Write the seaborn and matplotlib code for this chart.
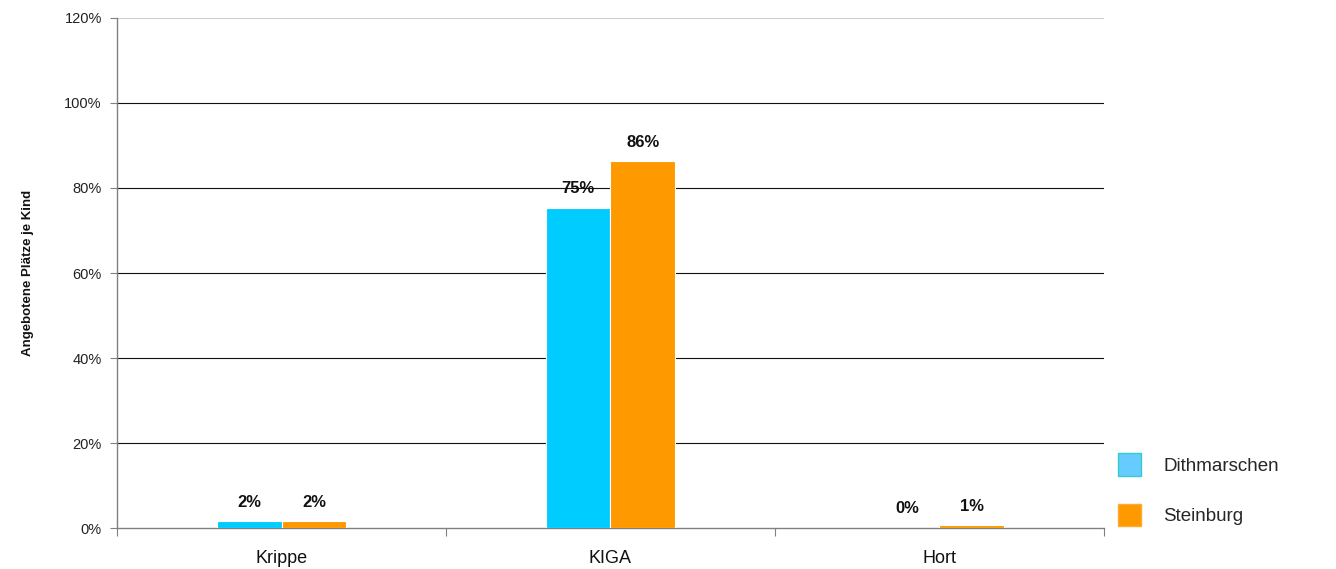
import matplotlib
matplotlib.use("Agg")
import matplotlib.pyplot as plt
from matplotlib.patches import Patch
from matplotlib.ticker import FixedLocator, PercentFormatter
import seaborn as sns
import pandas as pd

# Offered places per child, by care type and district
categories = ["Krippe", "KIGA", "Hort"]
dithmarschen = [0.016, 0.754, 0.001]
steinburg = [0.016, 0.864, 0.006]
series_names = ["Dithmarschen", "Steinburg"]
y_ticks = [0.0, 0.2, 0.4, 0.6, 0.8, 1.0, 1.2]

df = pd.DataFrame({
    "Kategorie": categories * 2,
    "Region": [series_names[0]] * 3 + [series_names[1]] * 3,
    "Anteil": dithmarschen + steinburg,
})

sns.set_theme(style="white")
plt.rcParams["font.family"] = ["Liberation Sans", "DejaVu Sans"]

fig = plt.figure(figsize=(13.36, 5.69), dpi=100)
ax = fig.add_axes([0.0876, 0.072, 0.7387, 0.8964])

bar_colors = {"Dithmarschen": "#00CCFF", "Steinburg": "#FF9900"}
sns.barplot(data=df, x="Kategorie", y="Anteil", hue="Region",
            order=categories, hue_order=series_names, palette=bar_colors,
            saturation=1, width=0.395, gap=0, edgecolor="white",
            linewidth=0.8, legend=False, ax=ax, zorder=3)

for cont in ax.containers:
    ax.bar_label(cont, labels=[f"{v * 100:.0f}%" for v in cont.datavalues],
                 padding=8, fontsize=12, fontweight="bold", color="#111111")

ax.set_xlim(-0.5, 2.5)
ax.set_ylim(0, 1.2)
ax.yaxis.set_major_locator(FixedLocator(y_ticks))
ax.yaxis.set_major_formatter(PercentFormatter(1.0, decimals=0))

# Horizontal gridlines
for t in y_ticks[1:]:
    ax.axhline(t, color="#D0D0D0" if t >= 1.2 else "#111111",
               linewidth=0.8, zorder=1)

for side in ["top", "right"]:
    ax.spines[side].set_visible(False)
for side in ["left", "bottom"]:
    ax.spines[side].set_color("#808080")
    ax.spines[side].set_linewidth(1.0)

ax.tick_params(axis="y", which="major", left=True, length=5, width=0.8,
               color="#808080", labelsize=10.5, labelcolor="#222222", pad=6)
ax.set_xticks([0, 1, 2])
ax.set_xticklabels(categories, fontsize=13, color="#111111")
ax.tick_params(axis="x", which="major", bottom=False, pad=10)
ax.set_xticks([-0.5, 0.5, 1.5, 2.5], minor=True)
ax.tick_params(axis="x", which="minor", bottom=True, length=6, width=0.8,
               color="#808080")

ax.set_xlabel("")
ax.set_ylabel("Angebotene Plätze je Kind", fontsize=9.5, fontweight="bold",
              color="#111111", labelpad=22)

handles = [Patch(facecolor="#66CCFF", edgecolor="#33CCCC", label="Dithmarschen"),
           Patch(facecolor="#FF9900", edgecolor="#FFAA33", label="Steinburg")]
fig.legend(handles=handles, loc="upper left", bbox_to_anchor=(0.8245, 0.233),
           frameon=False, fontsize=13.5, handlelength=1.2, handleheight=1.45,
           handletextpad=1.2, labelspacing=1.5)

fig.savefig("out.png", dpi=100)
